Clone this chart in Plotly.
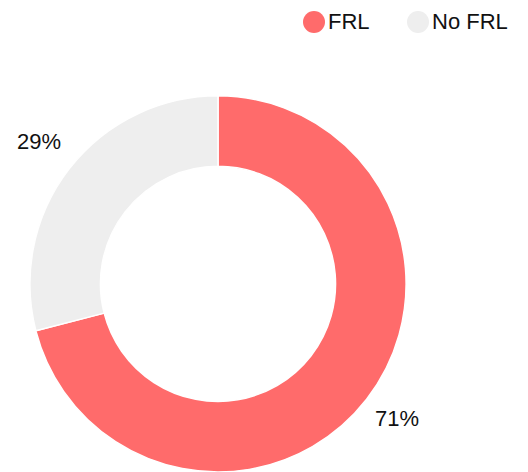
import math
import plotly.graph_objects as go

categories = ["FRL", "No FRL"]
values = [71, 29]
colors = ["#FF6B6B", "#EEEEEE"]
label_texts = ["71%", "29%"]

W, H = 528, 472
FONT = "Liberation Sans, Arial, Helvetica, sans-serif"

dom_x = [28.5 / W, 407.5 / W]
dom_y = [0.0, 0.797]

fig = go.Figure()
fig.add_trace(go.Pie(
    labels=categories,
    values=values,
    hole=0.625,
    sort=False,
    direction="clockwise",
    rotation=0,
    marker=dict(colors=colors, line=dict(color="white", width=1.5)),
    textinfo="none",
    hoverinfo="label+percent",
    showlegend=False,
    domain=dict(x=dom_x, y=dom_y),
))

# outside percentage labels, placed from slice mid-angles
cx = (dom_x[0] + dom_x[1]) / 2 * W
cy_from_bottom = (dom_y[0] + dom_y[1]) / 2 * H
r_label = 226
label_lift = 4
total = sum(values)
cum = 0
annotations = []
for v, t in zip(values, label_texts):
    mid = (cum + v / 2) / total * 2 * math.pi
    cum += v
    px = cx + r_label * math.sin(mid)
    py = cy_from_bottom + r_label * math.cos(mid) + label_lift
    annotations.append(dict(
        x=px / W, y=py / H, xref="paper", yref="paper",
        text=t, showarrow=False, xanchor="center", yanchor="middle",
        font=dict(size=22, color="#111111", family=FONT),
    ))

# legend built from categories/colors
legend_x = [314, 418]
legend_cy = 22
rad = 11
shapes = []
for lx, name, col in zip(legend_x, categories, colors):
    shapes.append(dict(
        type="circle", xref="paper", yref="paper",
        x0=(lx - rad) / W, x1=(lx + rad) / W,
        y0=1 - (legend_cy + rad) / H, y1=1 - (legend_cy - rad) / H,
        fillcolor=col, line=dict(width=0),
    ))
    annotations.append(dict(
        x=(lx + rad + 1) / W, y=1 - legend_cy / H, xref="paper", yref="paper",
        text=name, showarrow=False, xanchor="left", yanchor="middle",
        font=dict(size=22, color="#111111", family=FONT),
    ))

fig.update_layout(
    width=W, height=H,
    margin=dict(l=0, r=0, t=0, b=0),
    paper_bgcolor="white",
    plot_bgcolor="white",
    annotations=annotations,
    shapes=shapes,
    font=dict(family=FONT),
)

fig.write_html(
    "out.html",
    config={"displayModeBar": False},
    post_script="document.body.style.margin='0';",
)
